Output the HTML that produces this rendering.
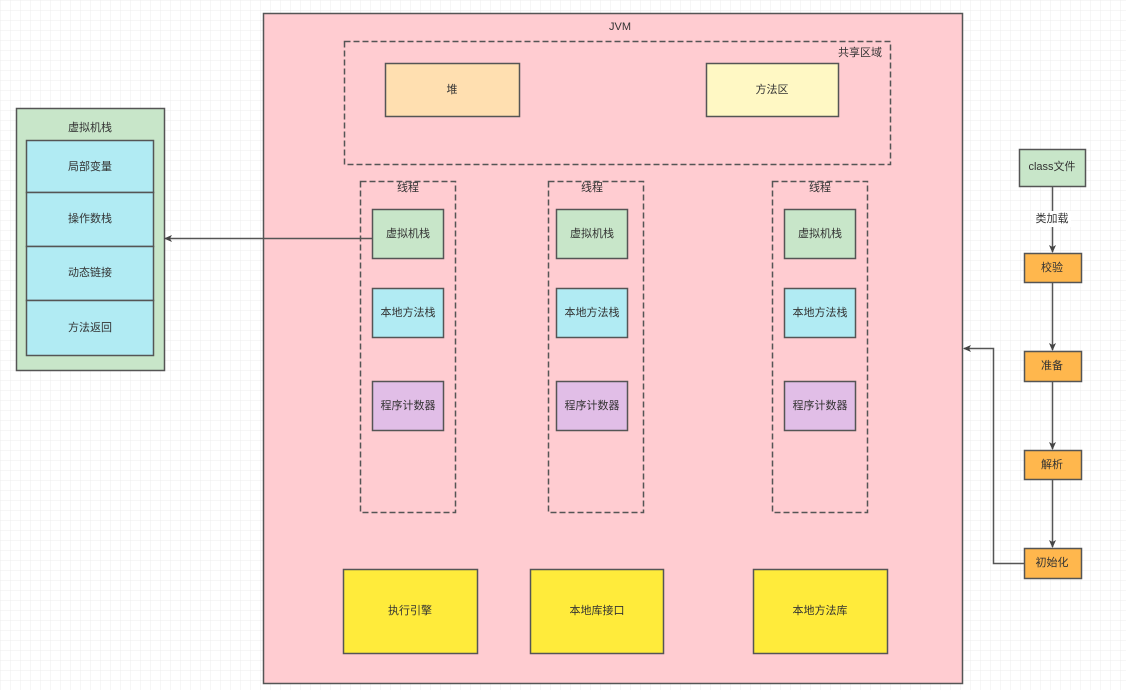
<!DOCTYPE html>
<html><head><meta charset="utf-8"><style>
html,body{margin:0;padding:0;background:#fff;}
svg{display:block;}
text{font-family:"Liberation Sans","Noto Sans CJK SC",sans-serif;font-size:11px;fill:#333;text-anchor:middle;dominant-baseline:central;}
</style></head><body>
<svg width="1126" height="690" xmlns="http://www.w3.org/2000/svg">
<defs>
<pattern id="g" width="10" height="10" patternUnits="userSpaceOnUse"><path d="M10 0H0V10" fill="none" stroke="#ececec" stroke-width="1"/></pattern>
<marker id="a" markerWidth="8" markerHeight="8" refX="7" refY="4" orient="auto" markerUnits="userSpaceOnUse"><path d="M0,0.5 L8,4 L0,7.5 L2,4z" fill="#444"/></marker>
</defs>
<rect width="1126" height="690" fill="url(#g)"/>
<g stroke="#555" stroke-width="1.5">
<rect x="263.5" y="13.5" width="699" height="670" fill="#ffccd1"/>
<rect x="344.5" y="41.5" width="546" height="123" fill="none" stroke-dasharray="6,3"/>
<rect x="385.5" y="63.5" width="134" height="53" fill="#ffdfb0"/>
<rect x="706.5" y="63.5" width="132" height="53" fill="#fff8c4"/>
<rect x="360.5" y="181.5" width="95" height="331" fill="none" stroke-dasharray="6,3"/>
<rect x="548.5" y="181.5" width="95" height="331" fill="none" stroke-dasharray="6,3"/>
<rect x="772.5" y="181.5" width="95" height="331" fill="none" stroke-dasharray="6,3"/>
<rect x="372.5" y="209.5" width="71" height="49" fill="#c8e6c9"/>
<rect x="372.5" y="288.5" width="71" height="49" fill="#b1ebf3"/>
<rect x="372.5" y="381.5" width="71" height="49" fill="#e1bee7"/>
<rect x="556.5" y="209.5" width="71" height="49" fill="#c8e6c9"/>
<rect x="556.5" y="288.5" width="71" height="49" fill="#b1ebf3"/>
<rect x="556.5" y="381.5" width="71" height="49" fill="#e1bee7"/>
<rect x="784.5" y="209.5" width="71" height="49" fill="#c8e6c9"/>
<rect x="784.5" y="288.5" width="71" height="49" fill="#b1ebf3"/>
<rect x="784.5" y="381.5" width="71" height="49" fill="#e1bee7"/>
<rect x="343.5" y="569.5" width="134" height="84" fill="#ffeb3b"/>
<rect x="530.5" y="569.5" width="133" height="84" fill="#ffeb3b"/>
<rect x="753.5" y="569.5" width="134" height="84" fill="#ffeb3b"/>
<rect x="16.5" y="108.5" width="148" height="262" fill="#c8e6c9"/>
<rect x="26.5" y="140.5" width="127" height="52" fill="#b1ebf3"/>
<rect x="26.5" y="192.5" width="127" height="54" fill="#b1ebf3"/>
<rect x="26.5" y="246.5" width="127" height="54" fill="#b1ebf3"/>
<rect x="26.5" y="300.5" width="127" height="55" fill="#b1ebf3"/>
<rect x="1019.5" y="149.5" width="66" height="37" fill="#c8e6c9"/>
<rect x="1024.5" y="253.5" width="57" height="29" fill="#ffb74d"/>
<rect x="1024.5" y="351.5" width="57" height="30" fill="#ffb74d"/>
<rect x="1024.5" y="450.5" width="57" height="29" fill="#ffb74d"/>
<rect x="1024.5" y="548.5" width="57" height="30" fill="#ffb74d"/>
<g fill="none" marker-end="url(#a)">
<path d="M372 238.5H165"/>
<path d="M1052.5 187V252"/>
<path d="M1052.5 283V350"/>
<path d="M1052.5 382V449"/>
<path d="M1052.5 480V547"/>
<path d="M1024 563.5H993.5V348.5H964"/>
</g>
</g>
<rect x="1033" y="211" width="38" height="16" fill="#fff"/>
<text x="1052" y="219">类加载</text>
<text x="620" y="27">JVM</text>
<text x="860" y="53">共享区域</text>
<text x="452" y="90">堆</text>
<text x="772" y="90">方法区</text>
<text x="408" y="188">线程</text>
<text x="592" y="188">线程</text>
<text x="820" y="188">线程</text>
<text x="408" y="234">虚拟机栈</text>
<text x="408" y="313">本地方法栈</text>
<text x="408" y="406">程序计数器</text>
<text x="592" y="234">虚拟机栈</text>
<text x="592" y="313">本地方法栈</text>
<text x="592" y="406">程序计数器</text>
<text x="820" y="234">虚拟机栈</text>
<text x="820" y="313">本地方法栈</text>
<text x="820" y="406">程序计数器</text>
<text x="410" y="611">执行引擎</text>
<text x="597" y="611">本地库接口</text>
<text x="820" y="611">本地方法库</text>
<text x="90" y="128">虚拟机栈</text>
<text x="90" y="167">局部变量</text>
<text x="90" y="219">操作数栈</text>
<text x="90" y="273">动态链接</text>
<text x="90" y="328">方法返回</text>
<text x="1052" y="167">class文件</text>
<text x="1052" y="268">校验</text>
<text x="1052" y="366">准备</text>
<text x="1052" y="465">解析</text>
<text x="1052" y="563">初始化</text>
</svg>
</body></html>
